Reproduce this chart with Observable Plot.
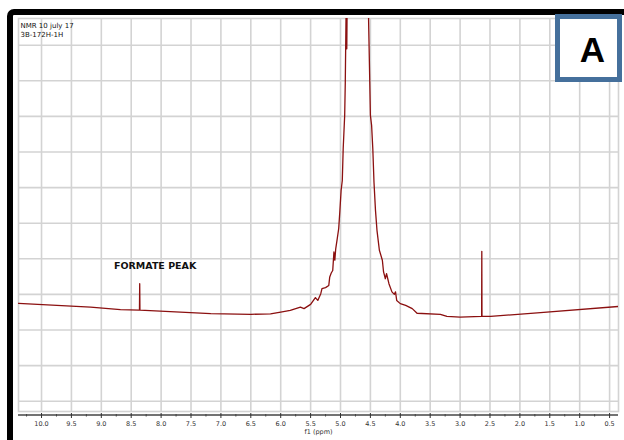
<!DOCTYPE html>
<html>
<head>
<meta charset="utf-8">
<script src="https://cdn.jsdelivr.net/npm/d3@7"></script>
<script src="https://cdn.jsdelivr.net/npm/@observablehq/plot@0.6"></script>
<style>
  body { margin: 0; background: #fff; }
  #wrap { position: relative; width: 624px; height: 440px; overflow: hidden; font-family: "DejaVu Sans", sans-serif; }
  #wrap svg { position: absolute; left: 0; top: 0; }
  #bezel { position: absolute; left: 7px; top: 9px; width: 640px; height: 460px; box-sizing: border-box;
           border-top: 6px solid #000; border-left: 6px solid #000; border-top-left-radius: 7px; pointer-events: none; }
  #panel { position: absolute; left: 555px; top: 14px; width: 67px; height: 68px; box-sizing: border-box;
           border: 5.5px solid #45709c; background: #fff; }
  #panel span { position: absolute; left: 4px; right: -4px; top: 13px; text-align: center;
                font: bold 35px/35px "Liberation Sans", Arial, sans-serif; color: #000; }
</style>
</head>
<body>
<div id="wrap">
  <div id="chart"></div>
  <div id="bezel"></div>
  <div id="panel"><span>A</span></div>
</div>
<script>
// 1H spectrum, chemical shift (ppm) and relative intensity
const ppm = [10.385, 9.18, 8.68, 8.37, 8.362, 8.358, 8.354, 7.17, 6.5, 6.17, 6.0, 5.84, 5.67, 5.61, 5.5, 5.42, 5.38,
  5.33, 5.31, 5.25, 5.196, 5.18, 5.155, 5.13, 5.11, 5.095, 5.08, 5.055, 5.03, 5.01, 4.99, 4.97, 4.955, 4.93, 4.92,
  4.905, 4.895, 4.885, 4.72, 4.53, 4.5, 4.48, 4.46, 4.44, 4.415, 4.39, 4.35, 4.3, 4.28, 4.25, 4.23, 4.19, 4.14, 4.1,
  4.08, 4.06, 4.0, 3.91, 3.8, 3.72, 3.33, 3.22, 3.0, 2.645, 2.64, 2.637, 2.634, 2.49, 1.656, 0.351];
const intensity = [-2.5, -3.6, -4.3, -4.4, -4.4, 3.0, -4.45, -5.4, -5.6, -5.5, -5.0, -4.5, -3.6, -4.0, -2.8, -0.9, -1.7,
  0.2, 1.6, 1.9, 2.5, 4.9, 6.0, 6.7, 11.9, 9.6, 12.8, 15.6, 18.5, 23.6, 29.2, 32.0, 41.0, 50.3, 59.6,
  82, 69, 90, 600, 76.7, 50.3, 47.5, 41.0, 31.5, 23.6, 18.0, 12.4, 9.6, 6.3, 4.4, 5.8, 3.0, 0.7, 0,
  0.7, -1.7, -2.6, -3.1, -4.0, -5.3, -5.6, -6.2, -6.4, -6.2, -6.2, 12.1, -6.2, -6.2, -5.1, -3.4];

// axis ticks and grid
const majorTicks = [10.0, 9.5, 9.0, 8.5, 8.0, 7.5, 7.0, 6.5, 6.0, 5.5, 5.0, 4.5, 4.0, 3.5, 3.0, 2.5, 2.0, 1.5, 1.0, 0.5];
const minorTicks = [10.25, 9.75, 9.25, 8.75, 8.25, 7.75, 7.25, 6.75, 6.25, 5.75, 5.25, 4.75, 4.25, 3.75, 3.25, 2.75, 2.25, 1.75, 1.25, 0.75];
const intensityGrid = [-30, -20, -10, 0, 10, 20, 30, 40, 50, 60, 70];

// annotations
const headerLines = ["NMR 10 july 17", "3B-172H-1H"];
const peakLabels = [{ppm: 8.1, intensity: 8, label: "FORMATE PEAK"}];
const axisTitle = "f1 (ppm)";

const spectrum = ppm.map((p, i) => ({ppm: p, intensity: intensity[i]}));
const xDomain = [10.385, 0.351];
const yDomain = [-32.9, 77.5];
const gridColor = "#d3d3d3";

const chart = Plot.plot({
  width: 624,
  height: 440,
  marginLeft: 18,
  marginRight: 6,
  marginTop: 18,
  marginBottom: 29,
  style: {background: "transparent", fontFamily: "'DejaVu Sans', sans-serif"},
  x: {domain: xDomain, axis: null},
  y: {domain: yDomain, axis: null},
  marks: [
    Plot.gridX(majorTicks, {stroke: gridColor, strokeOpacity: 1, strokeWidth: 1.6}),
    Plot.gridY(intensityGrid, {stroke: gridColor, strokeOpacity: 1, strokeWidth: 1.6}),
    Plot.frame({stroke: gridColor, strokeWidth: 1.6}),
    Plot.ruleY([yDomain[0]], {dy: 3.5, stroke: "#444", strokeWidth: 1.4}),
    Plot.axisX({ticks: minorTicks, anchor: "bottom", tickSize: 2.5, dy: 3, tickFormat: () => "", label: null, color: "#444"}),
    Plot.axisX({ticks: majorTicks, anchor: "bottom", tickSize: 5, dy: 2, tickPadding: 3, fontSize: 6.5,
      tickFormat: d => d.toFixed(1), label: null, color: "#333"}),
    Plot.text([axisTitle], {frameAnchor: "bottom", dy: 22.5, fontSize: 6.5, fill: "#333"}),
    Plot.text([headerLines.join("\n")], {frameAnchor: "top-left", textAnchor: "start", lineAnchor: "top",
      dx: 2, dy: 3, fontSize: 7, lineHeight: 1.3, fill: "#111"}),
    Plot.line(spectrum, {x: "ppm", y: "intensity", stroke: "#8b1010", strokeWidth: 1.3, clip: true}),
    Plot.text(peakLabels, {x: "ppm", y: "intensity", text: "label", fontWeight: "bold", fontSize: 9.5, fill: "#111"})
  ]
});

document.getElementById("chart").appendChild(chart);
</script>
</body>
</html>
